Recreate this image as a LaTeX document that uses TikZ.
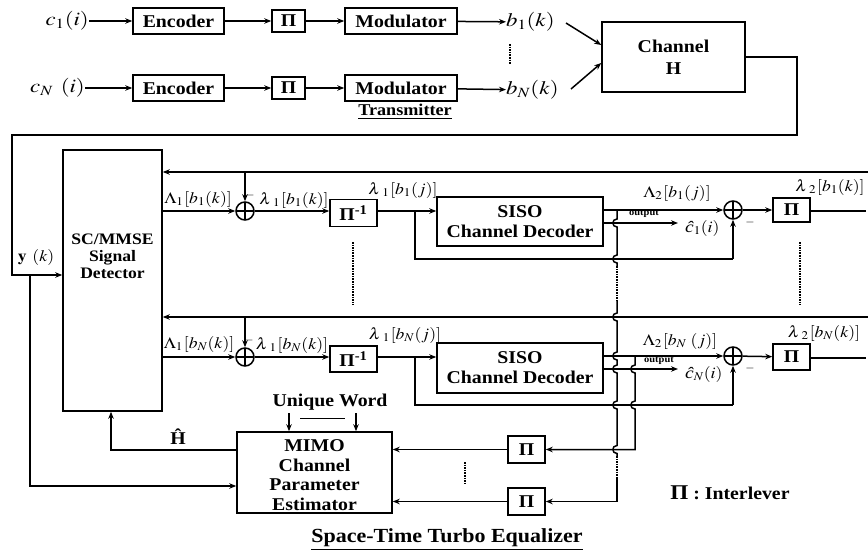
\documentclass[tikz,border=0pt]{standalone}
\usepackage{graphicx}
\usepackage{mathptmx}
\usepackage{fontspec}
\setmainfont{Liberation Serif}[FakeStretch=1.1]
\usetikzlibrary{arrows.meta,calc}
\newcommand\bfont{\fontsize{18}{20}\selectfont\bfseries}
\newcommand\mfont{\fontsize{19}{21}\selectfont}
\newcommand\lfont{\fontsize{16}{18}\selectfont}
\newcommand\ofont{\fontsize{9.5}{10}\selectfont\bfseries}
\newcommand\mx[1]{\scalebox{1.2}[1]{$#1$}}
\newcommand\lx[1]{\scalebox{1.1}[1]{$#1$}}
\newcommand\lam{\lambda\mkern2mu}
\newcommand\hopv[2]{-- (#1,#2-4) .. controls (#1-5.5,#2-4) and (#1-5.5,#2+4) .. (#1,#2+4)}
\tikzset{
 wire/.style={line width=1.5pt},
 arr/.style={wire,-{Stealth[length=7pt,width=5.5pt]}},
 blk/.style={draw,line width=1.5pt,inner sep=0pt,align=center,font=\bfont},
 lab/.style={inner sep=0pt,font=\mfont},
 llab/.style={inner sep=0pt,font=\lfont},
 mns/.style={inner sep=0pt,font=\fontsize{12}{12}\selectfont},
 sum/.style={draw,circle,line width=1.5pt,minimum size=18pt,inner sep=0pt,
   path picture={\draw[line width=1.5pt] (path picture bounding box.north) -- (path picture bounding box.south)
     (path picture bounding box.west) -- (path picture bounding box.east);}},
 dots/.style={line width=1.6pt,densely dotted}
}
\begin{document}
\begin{tikzpicture}[x=1pt,y=-1pt]
\useasboundingbox (0,0) rectangle (868,557);
% ---------------- Transmitter
\node[blk,minimum width=91pt,minimum height=26pt] (enc1) at (178.5,21) {Encoder};
\node[blk,minimum width=33pt,minimum height=22pt] (p1) at (288.5,21) {Π};
\node[blk,minimum width=112pt,minimum height=26pt] (mod1) at (401,21) {Modulator};
\node[lab,anchor=east] (c1) at (89,21) {\mx{c_1(i)}};
\node[lab,anchor=west] (b1) at (506,22) {\mx{b_1(k)}};
\draw[arr] (c1) -- (enc1);
\draw[arr] (enc1) -- (p1);
\draw[arr] (p1) -- (mod1);
\draw[arr] (mod1) -- (b1);
\node[blk,minimum width=91pt,minimum height=26pt] (encN) at (178.5,88) {Encoder};
\node[blk,minimum width=33pt,minimum height=22pt] (pN) at (288.5,88) {Π};
\node[blk,minimum width=112pt,minimum height=26pt] (modN) at (401,88) {Modulator};
\node[lab,anchor=east] (cN) at (85,88) {\mx{c_N\;\,(i)}};
\node[lab,anchor=west] (bN) at (506,90) {\mx{b_N(k)}};
\draw[arr] (cN) -- (encN);
\draw[arr] (encN) -- (pN);
\draw[arr] (pN) -- (modN);
\draw[arr] (modN) -- (bN);
\draw[dots] (510,44) -- (510,64);
\node[inner sep=0pt,font=\fontsize{16.5}{18}\selectfont\bfseries] (tx) at (405,112) {\underline{Transmitter}};
\node[blk,minimum width=143pt,minimum height=70pt] (ch) at (673.5,57) {Channel\\[2pt]H};
\coordinate (b1o) at (566,23);
\coordinate (bNo) at (571,89);
\draw[arr] (b1o) -- ($(ch.west)+(0,-12)$);
\draw[arr] (bNo) -- ($(ch.west)+(0,6)$);
% ---------------- receiver: detector
\node[blk,minimum width=99pt,minimum height=261pt] (det) at (112.5,280.5) {};
\node[inner sep=0pt,align=center,font=\fontsize{16}{17}\selectfont\bfseries] (dett) at (112.5,256) {SC/MMSE\\Signal\\Detector};
\coordinate (r1) at (797,135);
\coordinate (l1) at (12,135);
\coordinate (yk) at (12,275);
\coordinate (yj) at (30,275);
\draw[arr] (ch.east) -| (r1) -- (l1) -- (yk) -- (yk -| det.west);
\node[inner sep=0pt,font=\lfont] (yl) at (36,257) {\lx{\mathbf{y}\;\,(k)}};
% feedback lines
\coordinate (fbT) at (868,172);
\coordinate (fbN) at (868,317);
\draw[arr] (fbT) -- (fbT -| det.east);
\draw[arr] (fbN) -- (fbN -| det.east);
% ---------------- row 1
\node[sum] (s1) at (245,211) {};
\draw[arr] (s1 |- fbT) -- (s1.north);
\draw[arr] (det.east |- s1) -- (s1.west);
\node[llab] (L11) at (198,199) {\lx{\Lambda_1\mkern1mu[b_1(k)]}};
\node[mns] (m11) at (250,195) {$-$};
\node[llab] (l11) at (294,200) {\lx{\lam_1\mkern1mu[b_1(k)]}};
\node[blk,minimum width=47pt,minimum height=27pt] (pi1) at (353.5,213) {Π\textsuperscript{-1}};
\draw[arr] (s1.east) -- (s1.east -| pi1.west);
\node[blk,minimum width=166pt,minimum height=49pt] (d1) at (520,221.5) {SISO\\Channel Decoder};
\draw[arr] (pi1.east |- s1) -- (d1.west |- s1);
\node[llab] (l1j) at (403,190) {\lx{\lam_1\mkern1mu[b_1(j)]}};
\node[sum] (a1) at (733,210) {};
\coordinate (br1) at (415,211);
\coordinate (lp1) at (733,259);
\draw[wire] (br1) |- (lp1);
\draw[arr] (lp1) -- (a1.south);
\draw[arr] (d1.east |- a1) -- (a1.west);
\node[llab] (L21) at (677,193) {\lx{\Lambda_2\mkern1mu[b_1(j)]}};
\coordinate (o1) at (678,223);
\draw[arr] (d1.east |- o1) -- (o1);
\node[inner sep=0pt,font=\ofont] (ot1) at (644,214) {output};
\node[llab,anchor=west] (ch1) at (685,228) {\lx{\mbox{\itshape ĉ}_1(i)}};
\node[mns] (m21) at (750,222) {$-$};
\node[blk,minimum width=37pt,minimum height=24pt] (q1) at (791.5,210) {Π};
\draw[arr] (a1) -- (q1);
\coordinate (e1) at (866,211);
\draw[wire] (q1.east |- e1) -- (e1);
\node[llab] (l21) at (830,187) {\lx{\lam_2\mkern1mu[b_1(k)]}};
\draw[dots] (353,242) -- (353,305);
\draw[dots] (800,242) -- (800,305);
% ---------------- row N
\node[sum] (sN) at (245,357) {};
\draw[arr] (sN |- fbN) -- (sN.north);
\draw[arr] (det.east |- sN) -- (sN.west);
\node[llab] (L1N) at (199,344) {\lx{\Lambda_1\mkern1mu[b_N(k)]}};
\node[mns] (m1N) at (249,340) {$-$};
\node[llab] (l1N) at (292,345) {\lx{\lam_1\mkern1mu[b_N(k)]}};
\node[blk,minimum width=47pt,minimum height=26pt] (piN) at (353.5,359) {Π\textsuperscript{-1}};
\draw[arr] (sN.east) -- (sN.east -| piN.west);
\node[blk,minimum width=166pt,minimum height=50pt] (dN) at (520,368) {SISO\\Channel Decoder};
\draw[arr] (piN.east |- sN) -- (dN.west |- sN);
\node[llab] (lNj) at (405,335) {\lx{\lam_1\mkern1mu[b_N(j)]}};
\node[sum] (aN) at (733,356) {};
\coordinate (brN) at (415,357);
\coordinate (lpN) at (733,405);
\draw[wire] (brN) |- (lpN);
\draw[arr] (lpN) -- (aN.south);
\draw[arr] (dN.east |- aN) -- (aN.west);
\node[llab] (L2N) at (680,341) {\lx{\Lambda_2\mkern1mu[b_N\;(j)]}};
\coordinate (oN) at (678,369);
\draw[arr] (dN.east |- oN) -- (oN);
\node[inner sep=0pt,font=\ofont] (otN) at (659,361) {output};
\node[llab,anchor=west] (chN) at (685,374) {\lx{\mbox{\itshape ĉ}_N(i)}};
\node[mns] (m2N) at (750,368) {$-$};
\node[blk,minimum width=37pt,minimum height=26pt] (qN) at (791.5,357) {Π};
\draw[arr] (aN) -- (qN);
\coordinate (eN) at (866,358);
\draw[wire] (qN.east |- eN) -- (eN);
\node[llab] (l2N) at (824,333) {\lx{\lam_2\mkern1mu[b_N(k)]}};
% ---------------- MIMO estimator
\node[blk,minimum width=155pt,minimum height=81pt] (mimo) at (314.5,472.5) {};
\node[inner sep=0pt,align=center,font=\fontsize{18}{19.5}\selectfont\bfseries] (mimot) at (314.5,475) {MIMO\\Channel\\Parameter\\Estimator};
\node[inner sep=0pt,font=\bfont] (uw) at (330,402) {Unique Word};
\coordinate (uw1) at (289,413);
\coordinate (uw2) at (356,413);
\draw[arr] (uw1) -- (uw1 |- mimo.north);
\draw[arr] (uw2) -- (uw2 |- mimo.north);
\draw[line width=0.7pt] (300,418) -- (345,418);
\node[inner sep=0pt,font=\bfont] (hh) at (178,437) {Ĥ};
\coordinate (hc) at (111,450);
\draw[arr] (mimo.west |- hc) -- (hc) -- (hc |- det.south);
\coordinate (ym) at (30,486);
\draw[arr] (yj) -- (ym) -- (ym -| mimo.west);
\node[blk,minimum width=37pt,minimum height=27pt] (qB1) at (526.5,449.5) {Π};
\node[blk,minimum width=37pt,minimum height=27pt] (qB2) at (526.5,501.5) {Π};
\draw[arr] (qB1.west) -- (qB1.west -| mimo.east);
\draw[arr] (qB2.west) -- (qB2.west -| mimo.east);
\draw[dots] (465,462) -- (465,483);
% long feedback wires with hops
\coordinate (v1) at (617,210);
\coordinate (v2) at (635,356);
\draw[wire] (v1) \hopv{617}{223} \hopv{617}{259} -- (617,266);
\draw[dots] (617,266) -- (617,300);
\draw[wire] (617,300) \hopv{617}{317} \hopv{617}{356} \hopv{617}{369} \hopv{617}{405} \hopv{617}{449.5} -- (617,456);
\draw[dots] (617,456) -- (617,478);
\draw[arr] (617,478) |- (qB2.east);
\draw[arr] (v2) \hopv{635}{369} \hopv{635}{405} |- (qB1.east);
% legend & title
\node[inner sep=0pt,font=\bfont] (leg) at (730,493) {{\fontsize{21}{21}\selectfont Π} : Interlever};
\node[inner sep=0pt,font=\fontsize{20}{22}\selectfont\bfseries] (ttl) at (447,540) {\underline{Space-Time Turbo Equalizer}};
\end{tikzpicture}
\end{document}
